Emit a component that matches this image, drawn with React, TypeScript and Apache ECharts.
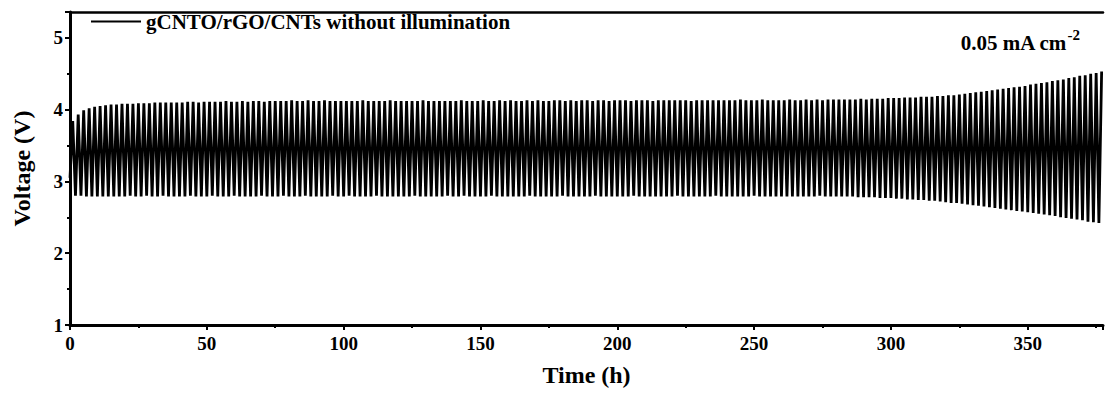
import React, { useEffect, useRef } from "react";
import * as echarts from "echarts";

// Galvanostatic cycling at 0.05 mA cm-2: each cycle is 1 h charge + 1 h discharge.
const CYCLE_HOURS = 2;
const SERIES_NAME = "gCNTO/rGO/CNTs without illumination";
const CURRENT_LABEL = "0.05 mA cm";
const CURRENT_EXP = "-2";

// End-of-charge voltage of each cycle (V), 10 cycles per row.
const peakVoltage = [
  3.84, 3.93, 3.99, 4.02, 4.04, 4.05, 4.06, 4.07, 4.07, 4.08,
  4.08, 4.08, 4.09, 4.09, 4.09, 4.1, 4.1, 4.1, 4.1, 4.1,
  4.1, 4.11, 4.11, 4.1, 4.11, 4.11, 4.11, 4.11, 4.12, 4.11,
  4.11, 4.12, 4.11, 4.12, 4.12, 4.11, 4.12, 4.12, 4.12, 4.12,
  4.13, 4.12, 4.12, 4.13, 4.12, 4.12, 4.13, 4.12, 4.12, 4.12,
  4.12, 4.12, 4.12, 4.13, 4.12, 4.12, 4.12, 4.12, 4.13, 4.12,
  4.12, 4.12, 4.12, 4.12, 4.13, 4.12, 4.12, 4.12, 4.12, 4.12,
  4.12, 4.13, 4.12, 4.12, 4.12, 4.13, 4.12, 4.12, 4.13, 4.12,
  4.13, 4.12, 4.12, 4.13, 4.12, 4.13, 4.12, 4.12, 4.13, 4.13,
  4.12, 4.13, 4.12, 4.13, 4.13, 4.12, 4.13, 4.13, 4.12, 4.13,
  4.13, 4.13, 4.12, 4.13, 4.13, 4.13, 4.12, 4.13, 4.13, 4.13,
  4.13, 4.13, 4.13, 4.12, 4.13, 4.13, 4.13, 4.13, 4.13, 4.13,
  4.13, 4.13, 4.14, 4.13, 4.13, 4.13, 4.14, 4.13, 4.13, 4.13,
  4.13, 4.14, 4.13, 4.13, 4.14, 4.13, 4.14, 4.13, 4.14, 4.14,
  4.14, 4.14, 4.14, 4.14, 4.15, 4.14, 4.15, 4.15, 4.15, 4.16,
  4.16, 4.16, 4.17, 4.17, 4.17, 4.18, 4.18, 4.18, 4.19, 4.19,
  4.2, 4.2, 4.21, 4.22, 4.23, 4.24, 4.25, 4.26, 4.27, 4.28,
  4.29, 4.3, 4.31, 4.32, 4.33, 4.35, 4.36, 4.37, 4.38, 4.4,
  4.41, 4.42, 4.44, 4.45, 4.47, 4.48, 4.5, 4.51, 4.53,
];

// End-of-discharge voltage at the start of each cycle (V).
const troughVoltage = [
  3.05, 2.8, 2.8, 2.79, 2.79, 2.79, 2.79, 2.79, 2.79, 2.79,
  2.79, 2.8, 2.79, 2.79, 2.8, 2.79, 2.79, 2.8, 2.79, 2.79,
  2.79, 2.79, 2.8, 2.79, 2.79, 2.79, 2.8, 2.79, 2.79, 2.79,
  2.8, 2.79, 2.79, 2.79, 2.79, 2.8, 2.79, 2.79, 2.79, 2.8,
  2.79, 2.79, 2.79, 2.8, 2.79, 2.79, 2.79, 2.79, 2.8, 2.79,
  2.79, 2.8, 2.79, 2.79, 2.79, 2.79, 2.8, 2.79, 2.79, 2.79,
  2.79, 2.79, 2.79, 2.8, 2.79, 2.79, 2.79, 2.79, 2.79, 2.8,
  2.79, 2.79, 2.8, 2.79, 2.79, 2.79, 2.79, 2.8, 2.79, 2.79,
  2.79, 2.79, 2.79, 2.79, 2.8, 2.79, 2.79, 2.79, 2.79, 2.79,
  2.8, 2.79, 2.79, 2.79, 2.79, 2.79, 2.8, 2.79, 2.79, 2.79,
  2.79, 2.79, 2.79, 2.8, 2.79, 2.79, 2.79, 2.79, 2.79, 2.79,
  2.79, 2.8, 2.79, 2.79, 2.79, 2.79, 2.79, 2.79, 2.8, 2.79,
  2.79, 2.79, 2.79, 2.79, 2.79, 2.8, 2.79, 2.79, 2.79, 2.79,
  2.79, 2.79, 2.79, 2.79, 2.79, 2.79, 2.79, 2.8, 2.79, 2.79,
  2.79, 2.79, 2.79, 2.79, 2.78, 2.78, 2.78, 2.78, 2.77, 2.77,
  2.77, 2.76, 2.76, 2.75, 2.75, 2.74, 2.74, 2.73, 2.73, 2.72,
  2.71, 2.7, 2.7, 2.69, 2.68, 2.67, 2.66, 2.65, 2.64, 2.63,
  2.62, 2.61, 2.6, 2.59, 2.58, 2.57, 2.56, 2.55, 2.54, 2.53,
  2.52, 2.5, 2.49, 2.48, 2.47, 2.46, 2.44, 2.43, 2.42,
];

const TIME_MIN = 0;
const TIME_MAX = 377.5;
const TIME_STEP = 50;
const VOLT_MIN = 1;
const VOLT_MAX = 5.36;
const VOLT_STEP = 1;

const FONT = "'Liberation Serif', 'Times New Roman', serif";

function buildCurve(): [number, number][] {
  const pts: [number, number][] = [];
  for (let k = 0; k < peakVoltage.length; k++) {
    const start = k * CYCLE_HOURS;
    pts.push([start, troughVoltage[k]]);
    pts.push([start + CYCLE_HOURS / 2, peakVoltage[k]]);
  }
  return pts;
}

export default function App() {
  const ref = useRef<HTMLDivElement>(null);

  useEffect(() => {
    if (!ref.current) return;
    const chart = echarts.init(ref.current, undefined, { renderer: "svg" });

    const axisText = {
      color: "#000",
      fontFamily: FONT,
      fontWeight: "bold" as const,
      fontSize: 19,
    };
    const nameText = {
      color: "#000",
      fontFamily: FONT,
      fontWeight: "bold" as const,
      fontSize: 24,
    };

    chart.setOption({
      animation: false,
      backgroundColor: "#ffffff",
      grid: { left: 70, right: 2, top: 12, bottom: 69, containLabel: false },
      legend: {
        data: [SERIES_NAME],
        left: 86,
        top: 6,
        icon: "rect",
        itemWidth: 50,
        itemHeight: 2,
        itemGap: 6,
        textStyle: { ...axisText, fontSize: 21, padding: [0, 0, 0, 0] },
      },
      xAxis: [
        {
          type: "value",
          min: TIME_MIN,
          max: TIME_MAX,
          interval: TIME_STEP,
          name: "Time (h)",
          nameLocation: "middle",
          nameGap: 38,
          nameTextStyle: nameText,
          axisLine: { show: true, onZero: false, lineStyle: { color: "#000", width: 3 } },
          axisTick: { show: true, inside: false, length: 5, lineStyle: { color: "#000", width: 2 } },
          minorTick: { show: true, splitNumber: 2, length: 3, lineStyle: { color: "#000", width: 2 } },
          axisLabel: {
            ...axisText,
            margin: 9,
            formatter: (v: number) => (v % TIME_STEP === 0 ? String(v) : ""),
          },
          splitLine: { show: false },
        },
        {
          type: "value",
          position: "top",
          min: TIME_MIN,
          max: TIME_MAX,
          axisLine: { show: true, onZero: false, lineStyle: { color: "#000", width: 2.5 } },
          axisTick: { show: false },
          axisLabel: { show: false },
          splitLine: { show: false },
        },
      ],
      yAxis: {
        type: "value",
        min: VOLT_MIN,
        max: VOLT_MAX,
        interval: VOLT_STEP,
        name: "Voltage (V)",
        nameLocation: "middle",
        nameGap: 36,
        nameTextStyle: nameText,
        axisLine: { show: true, onZero: false, lineStyle: { color: "#000", width: 3 } },
        axisTick: { show: true, inside: false, length: 5, lineStyle: { color: "#000", width: 2 } },
        minorTick: { show: true, splitNumber: 2, length: 3, lineStyle: { color: "#000", width: 2 } },
        axisLabel: {
          ...axisText,
          margin: 7,
          formatter: (v: number) => (Number.isInteger(v) ? String(v) : ""),
        },
        splitLine: { show: false },
      },
      graphic: [
        {
          type: "text",
          right: 26,
          top: 27,
          style: {
            text: `{a|${CURRENT_LABEL}}{b|${CURRENT_EXP}}`,
            rich: {
              a: { fontFamily: FONT, fontWeight: "bold", fontSize: 21, fill: "#000", lineHeight: 26, verticalAlign: "bottom" },
              b: { fontFamily: FONT, fontWeight: "bold", fontSize: 15, fill: "#000", lineHeight: 26, verticalAlign: "top", padding: [0, 0, 12, 0] },
            },
          },
        },
      ],
      series: [
        {
          name: SERIES_NAME,
          type: "line",
          xAxisIndex: 0,
          data: buildCurve(),
          symbol: "none",
          showSymbol: false,
          clip: true,
          lineStyle: { color: "#000", width: 2.8 },
          itemStyle: { color: "#000" },
        },
      ],
    });

    return () => chart.dispose();
  }, []);

  return (
    <div
      ref={ref}
      style={{ position: "fixed", left: 0, top: 0, width: 1106, height: 394, background: "#fff" }}
    />
  );
}
